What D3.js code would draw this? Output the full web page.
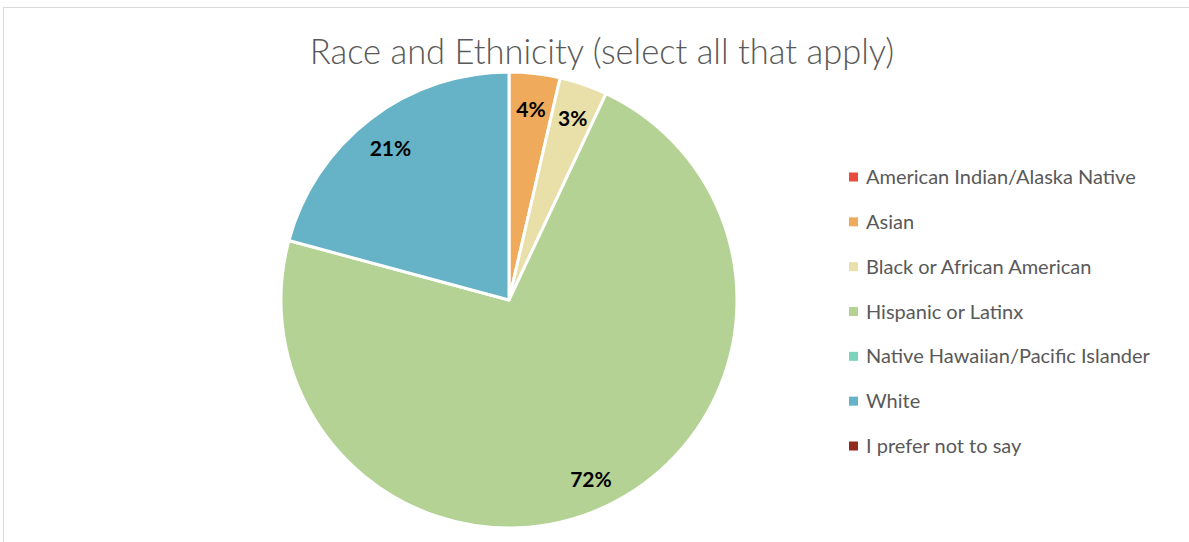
<!DOCTYPE html>
<html>
<head>
<meta charset="utf-8">
<script src="https://cdn.jsdelivr.net/npm/d3@7"></script>
<style>
  html, body { margin: 0; padding: 0; background: #fff; }
  svg { display: block; }
</style>
</head>
<body>
<svg id="chart" width="1189" height="542"></svg>
<script>
const categories = [
  "American Indian/Alaska Native",
  "Asian",
  "Black or African American",
  "Hispanic or Latinx",
  "Native Hawaiian/Pacific Islander",
  "White",
  "I prefer not to say"
];
const values = [0, 3.6, 3.4, 72.2, 0, 20.8, 0];
const colors = ["#E84C3D", "#F0AA5C", "#E8DFA9", "#B4D294", "#7CD4BF", "#66B2C7", "#922B1E"];
const title = "Race and Ethnicity (select all that apply)";

const svg = d3.select("#chart");
const W = 1189, H = 542;

// chart border (only top & left visible)
svg.append("rect")
  .attr("x", 3.5).attr("y", 7.5)
  .attr("width", W + 10).attr("height", H + 10)
  .attr("fill", "#fff").attr("stroke", "#D9D9D9").attr("stroke-width", 1);

svg.append("text")
  .attr("x", 602).attr("y", 64)
  .attr("text-anchor", "middle")
  .attr("font-family", "Lato, 'Open Sans', sans-serif")
  .attr("font-weight", 300)
  .attr("font-size", 34.5)
  .attr("fill", "#595959")
  .text(title);

const data = categories.map((c, i) => ({ name: c, value: values[i], color: colors[i] }));
const total = d3.sum(values);

const cx = 509, cy = 300, R = 228;
const pie = d3.pie().value(d => d.value).sort(null);
const arc = d3.arc().innerRadius(0).outerRadius(R);
const labelArc = d3.arc().innerRadius(195).outerRadius(195);

const g = svg.append("g").attr("transform", `translate(${cx},${cy})`);
const arcs = pie(data).filter(d => d.data.value > 0);

g.selectAll("path").data(arcs).join("path")
  .attr("d", arc)
  .attr("fill", d => d.data.color)
  .attr("stroke", "#fff")
  .attr("stroke-width", 3)
  .attr("stroke-linejoin", "round");

const fmt = d3.format(".0%");
g.selectAll("text.lbl").data(arcs).join("text")
  .attr("class", "lbl")
  .attr("transform", d => `translate(${labelArc.centroid(d)})`)
  .attr("text-anchor", "middle")
  .attr("dy", "0.5em")
  .attr("font-family", "Lato, 'Open Sans', sans-serif")
  .attr("font-weight", "bold")
  .attr("font-size", 21)
  .attr("fill", "#000")
  .text(d => fmt(d.data.value / total));

// legend
const leg = svg.append("g");
const ly = d3.scalePoint().domain(categories).range([177, 446]);
const items = leg.selectAll("g").data(data).join("g")
  .attr("transform", d => `translate(849,${ly(d.name)})`);
items.append("rect")
  .attr("x", 0).attr("y", -4.5).attr("width", 9).attr("height", 9)
  .attr("fill", d => d.color);
items.append("text")
  .attr("x", 17).attr("dy", "0.35em")
  .attr("font-family", "Lato, 'Open Sans', sans-serif")
  .attr("font-size", 20)
  .attr("fill", "#595959")
  .text(d => d.name);
</script>
</body>
</html>
